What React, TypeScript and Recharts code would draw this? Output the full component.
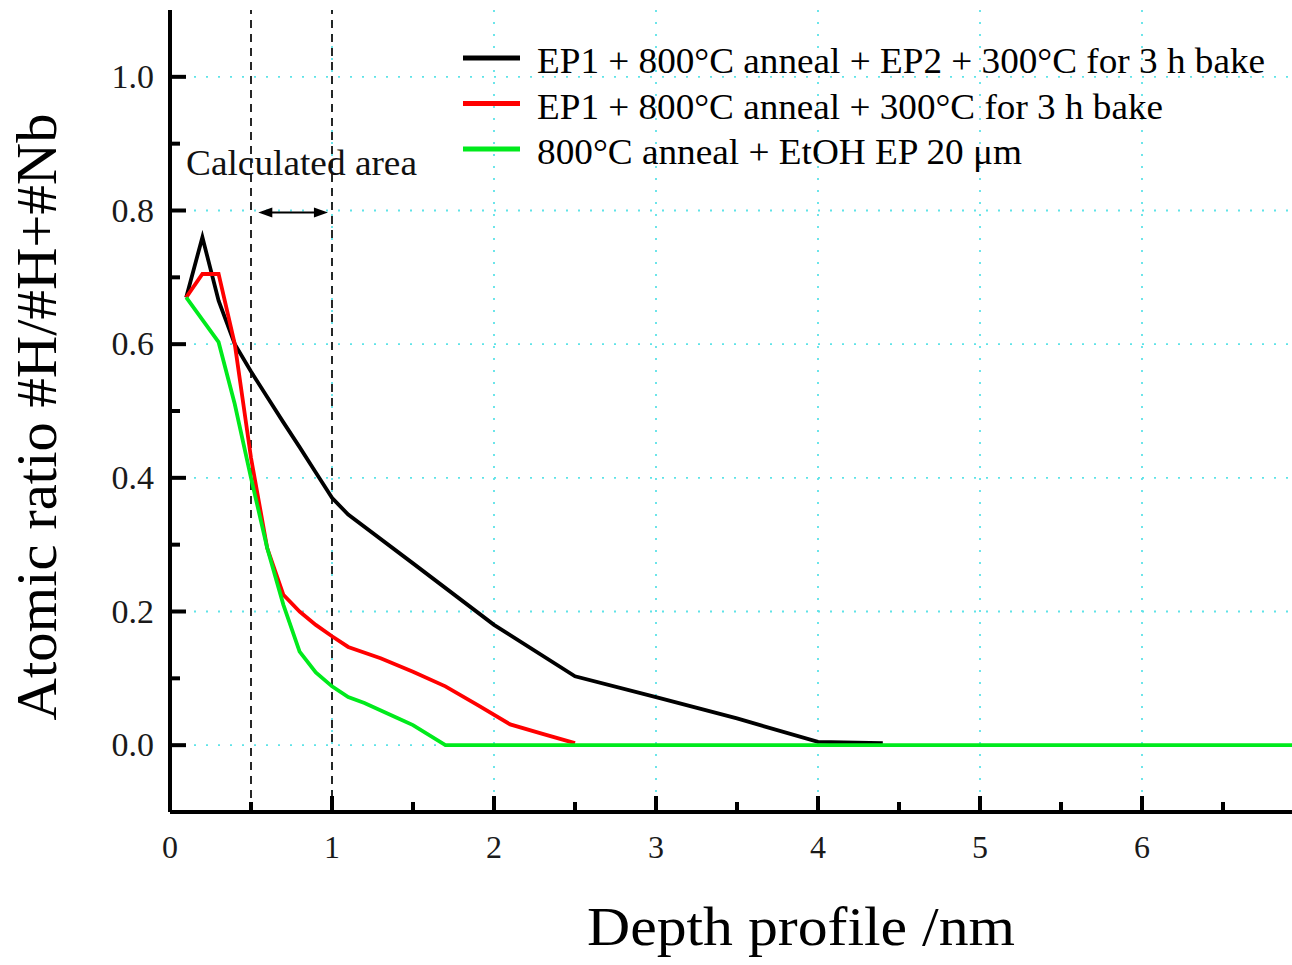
import React from 'react';
import { LineChart, Line, XAxis, YAxis, CartesianGrid, ReferenceLine, Legend } from 'recharts';

const FONT = "'Liberation Serif', 'Times New Roman', serif";

const blackDepth = [0.1, 0.2, 0.3, 0.4, 0.5, 0.6, 0.7, 0.8, 0.9, 1.0, 1.1, 1.5, 2.0, 2.5, 3.0, 3.5, 4.0, 4.4];
const blackRatio = [0.67, 0.76, 0.665, 0.6, 0.559, 0.521, 0.483, 0.446, 0.408, 0.37, 0.345, 0.272, 0.18, 0.103, 0.072, 0.04, 0.005, 0.003];

const redDepth = [0.1, 0.2, 0.3, 0.4, 0.5, 0.6, 0.7, 0.8, 0.9, 1.0, 1.1, 1.3, 1.5, 1.7, 1.9, 2.1, 2.3, 2.5];
const redRatio = [0.67, 0.705, 0.705, 0.6, 0.43, 0.295, 0.225, 0.2, 0.18, 0.163, 0.147, 0.13, 0.11, 0.088, 0.06, 0.031, 0.017, 0.003];

const greenDepth = [0.1, 0.3, 0.4, 0.5, 0.6, 0.7, 0.8, 0.9, 1.0, 1.1, 1.2, 1.4, 1.5, 1.7, 7.0];
const greenRatio = [0.67, 0.603, 0.51, 0.4, 0.295, 0.21, 0.14, 0.109, 0.088, 0.072, 0.063, 0.041, 0.03, 0.0, 0.0];

const seriesNames = [
  'EP1 + 800°C anneal + EP2 + 300°C for 3 h bake',
  'EP1 + 800°C anneal + 300°C for 3 h bake',
  '800°C anneal + EtOH EP 20 μm',
];
const seriesColors = ['#000000', '#ff0000', '#00ea1c'];

const xTicks = [0, 0.5, 1, 1.5, 2, 2.5, 3, 3.5, 4, 4.5, 5, 5.5, 6, 6.5, 7];
const yTicks = [0, 0.1, 0.2, 0.3, 0.4, 0.5, 0.6, 0.7, 0.8, 0.9, 1.0];
const xGrid = [1, 2, 3, 4, 5, 6];
const yGrid = [0, 0.2, 0.4, 0.6, 0.8, 1.0];
const calcBounds = [0.5, 1.0];
const arrowSpan = [0.545, 0.975];
const arrowLevel = 0.797;

const zip = (xs: number[], ys: number[]) => xs.map((x, i) => ({ x, y: ys[i] }));
const blackData = zip(blackDepth, blackRatio);
const redData = zip(redDepth, redRatio);
const greenData = zip(greenDepth, greenRatio);

const isInt = (v: number) => Math.abs(v - Math.round(v)) < 1e-6;
const isMajorY = (v: number) => Math.abs(v * 5 - Math.round(v * 5)) < 1e-6;

const TICK_W = 4;
const fontStyle = { fontFamily: FONT };

const BottomTick = (props: any) => {
  const { x, y, payload } = props;
  const v = payload.value;
  const major = isInt(v);
  return (
    <g>
      <line x1={x} x2={x} y1={y} y2={y - (major ? 16 : 10)} stroke="#000" strokeWidth={TICK_W} />
      {major && v < 7 ? (
        <text x={x} y={y + 46} textAnchor="middle" fontSize={32} style={fontStyle} fill="#1a1a1a">
          {v}
        </text>
      ) : null}
    </g>
  );
};

const TopTick = (props: any) => {
  const { x, y, payload } = props;
  const major = isInt(payload.value);
  return <line x1={x} x2={x} y1={y} y2={y + (major ? 16 : 10)} stroke="#000" strokeWidth={TICK_W} />;
};

const LeftTick = (props: any) => {
  const { x, y, payload } = props;
  const v = payload.value;
  const major = isMajorY(v);
  return (
    <g>
      <line x1={x} x2={x + (major ? 16 : 10)} y1={y} y2={y} stroke="#000" strokeWidth={TICK_W} />
      {major ? (
        <text x={x - 16} y={y + 11} textAnchor="end" fontSize={34} style={fontStyle} fill="#1a1a1a">
          {v.toFixed(1)}
        </text>
      ) : null}
    </g>
  );
};

const legendTextLengths = [728, 626, 485];

const LegendContent = () => (
  <svg width={840} height={150} style={{ display: 'block', overflow: 'visible' }}>
    {seriesNames.map((name, i) => (
      <g key={name}>
        <line x1={8} x2={65} y1={28 + i * 45.5} y2={28 + i * 45.5} stroke={seriesColors[i]} strokeWidth={5} />
        <text
          x={82}
          y={43 + i * 45.5}
          fontSize={36}
          style={fontStyle}
          fill="#000"
          textLength={legendTextLengths[i]}
          lengthAdjust="spacingAndGlyphs"
        >
          {name}
        </text>
      </g>
    ))}
  </svg>
);

const ArrowShape = (props: any) => {
  const { x1, y1, x2, y2 } = props;
  if (x1 == null) return null;
  const h = 5;
  const l = 14;
  return (
    <g>
      <line x1={x1 + 4} x2={x2 - 4} y1={y1} y2={y2} stroke="#000" strokeWidth={1.8} />
      <polygon points={`${x1},${y1} ${x1 + l},${y1 - h} ${x1 + l},${y1 + h}`} fill="#000" />
      <polygon points={`${x2},${y2} ${x2 - l},${y2 - h} ${x2 - l},${y2 + h}`} fill="#000" />
    </g>
  );
};

const AXIS_LINE = { stroke: '#000', strokeWidth: 4 };

export default function App() {
  return (
    <div style={{ position: 'absolute', left: 0, top: 0, width: 1292, height: 965, overflow: 'hidden', background: '#fff' }}>
      <LineChart width={1304} height={965} margin={{ top: 10, right: 0, left: 70, bottom: 93 }}>
        <CartesianGrid
          xAxisId="b"
          yAxisId="l"
          horizontalValues={yGrid}
          verticalValues={xGrid}
          stroke="#5ee3e8"
          strokeWidth={1.8}
          strokeDasharray="2 10"
        />
        <XAxis
          xAxisId="b"
          dataKey="x"
          type="number"
          domain={[0, 7]}
          ticks={xTicks}
          interval={0}
          height={60}
          tickSize={0}
          tickMargin={0}
          tickLine={false}
          tick={<BottomTick />}
          axisLine={AXIS_LINE}
          label={{
            content: () => (
              <text
                x={801}
                y={945}
                textAnchor="middle"
                fontSize={54}
                style={fontStyle}
                fill="#000"
                textLength={428}
                lengthAdjust="spacingAndGlyphs"
              >
                Depth profile /nm
              </text>
            ),
          }}
        />
        <XAxis
          xAxisId="t"
          orientation="top"
          dataKey="x"
          type="number"
          domain={[0, 7]}
          ticks={xTicks}
          interval={0}
          height={0}
          tickSize={0}
          tickMargin={0}
          tickLine={false}
          tick={<TopTick />}
          axisLine={AXIS_LINE}
        />
        <YAxis
          yAxisId="l"
          type="number"
          domain={[-0.1, 1.1]}
          ticks={yTicks}
          interval={0}
          width={100}
          tickSize={0}
          tickMargin={0}
          tickLine={false}
          tick={<LeftTick />}
          axisLine={AXIS_LINE}
          label={{
            content: () => (
              <text
                x={56}
                y={417}
                transform="rotate(-90, 56, 417)"
                textAnchor="middle"
                fontSize={58}
                style={fontStyle}
                fill="#000"
                textLength={607}
                lengthAdjust="spacingAndGlyphs"
              >
                Atomic ratio #H/#H+#Nb
              </text>
            ),
          }}
        />
        {calcBounds.map((v) => (
          <ReferenceLine
            key={v}
            xAxisId="b"
            yAxisId="l"
            x={v}
            stroke="#111"
            strokeWidth={1.8}
            strokeDasharray="8 6"
          />
        ))}
        <ReferenceLine
          xAxisId="b"
          yAxisId="l"
          segment={[
            { x: arrowSpan[0], y: arrowLevel },
            { x: arrowSpan[1], y: arrowLevel },
          ]}
          shape={<ArrowShape />}
          label={{
            content: () => (
              <text
                x={186}
                y={175}
                fontSize={36}
                style={fontStyle}
                fill="#111"
                textLength={231}
                lengthAdjust="spacingAndGlyphs"
              >
                Calculated area
              </text>
            ),
          }}
        />
        <Line
          xAxisId="b"
          yAxisId="l"
          data={blackData}
          dataKey="y"
          name={seriesNames[0]}
          type="linear"
          stroke={seriesColors[0]}
          strokeWidth={3.8}
          dot={false}
          isAnimationActive={false}
        />
        <Line
          xAxisId="b"
          yAxisId="l"
          data={redData}
          dataKey="y"
          name={seriesNames[1]}
          type="linear"
          stroke={seriesColors[1]}
          strokeWidth={3.8}
          dot={false}
          isAnimationActive={false}
        />
        <Line
          xAxisId="b"
          yAxisId="l"
          data={greenData}
          dataKey="y"
          name={seriesNames[2]}
          type="linear"
          stroke={seriesColors[2]}
          strokeWidth={3.8}
          dot={false}
          isAnimationActive={false}
        />
        <Legend
          layout="vertical"
          align="center"
          verticalAlign="middle"
          content={<LegendContent />}
          wrapperStyle={{ position: 'absolute', left: 455, top: 30, width: 840, height: 150 }}
        />
      </LineChart>
    </div>
  );
}
